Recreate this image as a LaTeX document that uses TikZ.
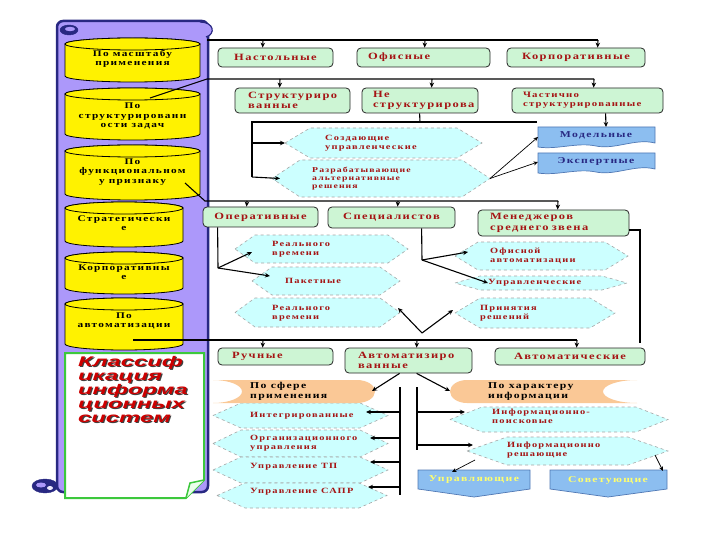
\documentclass[tikz,border=0pt]{standalone}
\usepackage{fontspec}
\setmainfont{Liberation Serif}
\newfontfamily\bxf{Liberation Serif}[FakeStretch=1.3,LetterSpace=15]
\newfontfamily\notef{Liberation Sans}[FakeStretch=1.7]
\usetikzlibrary{arrows.meta}
\definecolor{lav}{RGB}{172,152,250}
\definecolor{navy}{RGB}{40,40,130}
\definecolor{mint}{RGB}{205,245,212}
\definecolor{cyanl}{RGB}{204,255,255}
\definecolor{dred}{RGB}{165,20,20}
\definecolor{orng}{RGB}{250,200,150}
\definecolor{bluel}{RGB}{140,190,240}
\definecolor{blued}{RGB}{80,120,180}
\definecolor{notegreen}{RGB}{60,200,60}
\definecolor{ytext}{RGB}{255,255,110}
\newcommand\mycyl[6]{%
  \filldraw[cylsty] ({#2},{#4+6}) -- ({#2},{#5-6}) arc[start angle=180,end angle=360,x radius={(#3-#2)/2*1pt},y radius=6pt] -- ({#3},{#4+6}) arc[start angle=0,end angle=180,x radius={(#3-#2)/2*1pt},y radius=6pt] -- cycle;
  \draw[cylsty] ({(#2+#3)/2},{#4+6}) ellipse [x radius={(#3-#2)/2*1pt},y radius=6pt];
  \node[cyltext] (#1) at ({(#2+#3)/2},{#6}) {};}
\newcommand\myhex[6]{%
  \path[hexsty] ({#2},{(#4+#5)/2}) -- ({#2+#6},{#4}) -- ({#3-#6},{#4}) -- ({#3},{(#4+#5)/2}) -- ({#3-#6},{#5}) -- ({#2+#6},{#5}) -- cycle;
  \coordinate (#1-w) at ({#2},{(#4+#5)/2});
  \coordinate (#1-e) at ({#3},{(#4+#5)/2});}
\begin{document}
\begin{tikzpicture}[x=1pt,y=-1pt,
  cylsty/.style={fill=yellow,draw=black,line width=0.8pt},
  cyltext/.style={inner sep=0pt},
  t9/.style={font=\bxf\bfseries\fontsize{9}{10}\selectfont},
  tb/.style={font=\bxf\bfseries\fontsize{9.6}{10.4}\selectfont},
  tc/.style={font=\bxf\bfseries\fontsize{8.7}{9.6}\selectfont},
  t8/.style={font=\bxf\bfseries\fontsize{8}{8.8}\selectfont},
  t7/.style={font=\bxf\bfseries\fontsize{7.5}{8}\selectfont},
  gbox/.style={draw=black!85,fill=mint,rounded corners=4pt,line width=0.8pt,inner sep=0pt,tb,text=dred,align=left},
  hexsty/.style={fill=cyanl,draw=gray!70,dashed,line width=0.6pt},
  htext/.style={t8,text=dred,align=left,inner sep=0pt,anchor=west},
  ln/.style={line width=1.1pt,draw=black},
  arr/.style={line width=1.1pt,draw=black,-{Stealth[length=5pt,width=4.5pt]}},
  tarr/.style={line width=0.7pt,draw=black,-{Stealth[length=4.5pt,width=4pt]}},
  bshape/.style={fill=bluel,draw=blued,line width=0.7pt},
  oshape/.style={fill=orng,draw=none}]
\useasboundingbox (0,0) rectangle (720,540);
\fill[white] (0,0) rectangle (720,540);
% ---------------- scroll
\filldraw[fill=lav,draw=navy,line width=2.5pt,rounded corners=6pt] (57,21) rectangle (208,492);
\filldraw[fill=lav,draw=navy,line width=1.2pt] (200,22) .. controls (214,22) and (216,34) .. (206,37);
\filldraw[fill=navy,draw=navy] (69,30) ellipse [x radius=9pt,y radius=5pt];
\fill[lav] (70,29) ellipse [x radius=5pt,y radius=2.2pt];
\filldraw[fill=navy,draw=navy] (45,486) ellipse [x radius=13pt,y radius=7pt];
\fill[lav] (41,485) ellipse [x radius=5pt,y radius=2.5pt];
\fill[white!80!lav] (50,488) ellipse [x radius=3pt,y radius=2pt];
% cylinders
\mycyl{c1}{65}{200}{38}{82}{59}
\node[tc,align=center,inner sep=0pt] (c1t) at (132.5,59) {По масштабу\\применения};
\mycyl{c2}{65}{200}{88}{140}{116}
\node[tc,align=center,inner sep=0pt] (c2t) at (132.5,116) {По\\структурированн\\ости задач};
\mycyl{c3}{65}{200}{145}{200}{172}
\node[tc,align=center,inner sep=0pt] (c3t) at (132.5,172) {По\\функциональном\\у признаку};
\mycyl{c4}{65}{183}{202}{247}{223}
\node[tc,align=center,inner sep=0pt] (c4t) at (124,223) {Стратегически\\е};
\mycyl{c5}{65}{183}{252}{294}{272}
\node[tc,align=center,inner sep=0pt] (c5t) at (124,272) {Корпоративны\\е};
\mycyl{c6}{65}{183}{298}{350}{321}
\node[tc,align=center,inner sep=0pt] (c6t) at (124,321) {По\\автоматизации};
% note
\filldraw[fill=white,draw=notegreen,line width=2pt] (65,353) -- (204,353) -- (204,480) -- (186,498) -- (65,498) -- cycle;
\filldraw[fill=green!8,draw=notegreen,line width=1.5pt] (186,498) -- (190,483) -- (204,480);
\node[font=\notef\bfseries\itshape\fontsize{14}{14}\selectfont,text=black!75,align=left,anchor=north west,inner sep=0pt] (noteshadow) at (79.2,357.2) {Классиф\\икация\\информа\\ционных\\систем};
\node[font=\notef\bfseries\itshape\fontsize{14}{14}\selectfont,text=red!80!black,align=left,anchor=north west,inner sep=0pt] (notetext) at (78,356) {Классиф\\икация\\информа\\ционных\\систем};
% ---------------- row 1
\node[gbox,minimum width=115pt,minimum height=19pt,align=center] (nast) at (275.5,57.5) {Настольные};
\node[gbox,minimum width=133pt,minimum height=19pt,text width=111pt] (ofis) at (423.5,57.5) {Офисные};
\node[gbox,minimum width=138pt,minimum height=19pt,align=center] (korp) at (576,57.5) {Корпоративные};
% row 2
\node[gbox,minimum width=115pt,minimum height=25pt,text width=89pt] (str) at (292.5,100.5) {Структуриро\\ванные};
\node[gbox,minimum width=116pt,minimum height=25pt,text width=94pt] (nestr) at (420,100.5) {Не\\структурирова};
\node[gbox,minimum width=151pt,minimum height=25pt,text width=129pt,font=\bxf\bfseries\fontsize{8.3}{8.8}\selectfont] (chast) at (587.5,100.5) {Частично\\структурированные};
% row 3
\node[gbox,minimum width=115pt,minimum height=20pt,align=center] (oper) at (260.5,217) {Оперативные};
\node[gbox,minimum width=127pt,minimum height=21pt,align=center] (spec) at (391.5,217.5) {Специалистов};
\node[gbox,minimum width=151pt,minimum height=26pt,text width=127pt] (mngr) at (553.5,223) {Менеджеров\\среднего звена};
% row 4
\node[gbox,minimum width=115pt,minimum height=17pt,text width=87pt] (ruch) at (275.5,356.5) {Ручные};
\node[gbox,minimum width=127pt,minimum height=25pt,text width=101pt] (avtz) at (408.5,360.5) {Автоматизиро\\ванные};
\node[gbox,minimum width=150pt,minimum height=17pt,align=center] (avtc) at (570,356.5) {Автоматические};
% ---------------- hexagons
\myhex{h1}{285}{482}{128}{158}{25}
\node[htext] (h1t) at (325,143) {Создающие\\управленческие};
\myhex{h2}{272}{490}{160}{197}{28}
\node[htext,t7] (h2t) at (312,179) {Разрабатывающие\\альтернативные\\решения};
\myhex{hr1}{235}{408}{235}{263}{20}
\node[htext] (hr1t) at (272,249) {Реального\\времени};
\myhex{hr2}{252}{400}{267}{295}{20}
\node[htext] (hr2t) at (285,281) {Пакетные};
\myhex{hr3}{235}{400}{298}{327}{20}
\node[htext] (hr3t) at (272,313) {Реального\\времени};
\myhex{hm1}{455}{628}{242}{270}{23}
\node[htext] (hm1t) at (490,256) {Офисной\\автоматизации};
\myhex{hm2}{455}{627}{276}{290}{25}
\node[htext] (hm2t) at (488,283) {Управленческие};
\myhex{hm3}{455}{615}{298}{328}{25}
\node[htext] (hm3t) at (480,313) {Принятия\\решений};
\myhex{l1}{213}{388}{403}{428}{28}
\node[htext] (l1t) at (250,416) {Интегрированные};
\myhex{l2}{213}{388}{430}{457}{28}
\node[htext] (l2t) at (250,443) {Организационного\\управления};
\myhex{l3}{213}{388}{457}{483}{28}
\node[htext] (l3t) at (250,467) {Управление ТП};
\myhex{l4}{217}{387}{483}{508}{28}
\node[htext] (l4t) at (250,492) {Управление САПР};
\myhex{r1}{450}{668}{407}{432}{32}
\node[htext] (r1t) at (492,416) {Информационно-\\поисковые};
\myhex{r2}{467}{668}{437}{465}{40}
\node[htext] (r2t) at (507,450) {Информационно\\решающие};
% ---------------- orange
\path[oshape] (213,380) -- (357,380) arc[start angle=90,end angle=-90,x radius=18pt,y radius=11.5pt] -- (213,403) arc[start angle=-90,end angle=90,x radius=29pt,y radius=11.5pt] -- cycle;
\node[t9,align=left,inner sep=0pt,anchor=west] (o1) at (250,391.5) {По сфере\\применения};
\path[oshape] (637,380) -- (467,380) arc[start angle=90,end angle=270,x radius=17pt,y radius=11.5pt] -- (637,403) arc[start angle=270,end angle=90,x radius=34pt,y radius=11.5pt] -- cycle;
\node[t9,align=left,inner sep=0pt,anchor=west] (o2) at (488,391.5) {По характеру\\информации};
% ---------------- blue
\path[bshape] (538,127) -- (655,127) -- (655,143) .. controls (635,138) and (615,150) .. (596,146) .. controls (577,142) and (557,150) .. (538,147) -- cycle;
\node[t9,text=navy,inner sep=0pt] (model) at (596,135) {Модельные};
\path[bshape] (538,153) -- (655,153) -- (655,169) .. controls (635,164) and (615,176) .. (596,172) .. controls (577,168) and (557,176) .. (538,173) -- cycle;
\node[t9,text=navy,inner sep=0pt] (expert) at (596,161) {Экспертные};
\path[bshape] (418,470) -- (530,470) -- (530,489) -- (474,497) -- (418,489) -- cycle;
\node[t9,text=ytext,inner sep=0pt] (upr) at (474,480) {Управляющие};
\path[bshape] (550,470) -- (667,470) -- (667,489) -- (608,497) -- (550,489) -- cycle;
\node[t9,text=ytext,inner sep=0pt] (sov) at (608,480) {Советующие};
% ---------------- connectors
\draw[ln] (207,40) -- (598,40);
\draw[arr] (263,40) -- ([xshift=45pt]nast.north west);
\draw[arr] (425,40) -- ([xshift=68pt]ofis.north west);
\draw[arr] (598,40) -- ([xshift=91pt]korp.north west);
\draw[ln] (150,98) -- (207,79) -- (594,79);
\draw[arr] (280,79) -- ([xshift=45pt]str.north west);
\draw[arr] (432,79) -- ([xshift=70pt]nestr.north west);
\draw[arr] (594,79) -- ([xshift=82pt]chast.north west);
\draw[ln] ([xshift=58pt]nestr.south west) -- (420,122);
\draw[ln] (537,122) -- (252,122) -- (252,177);
\draw[arr] (252,143) -- (h1-w);
\draw[arr] (252,177) -- ([xshift=8pt]h2-w);
\draw[arr] ([xshift=94pt]chast.south west) -- (606,127);
\draw[tarr] (h2-e) -- (538,137);
\draw[tarr] (h2-e) -- (538,162);
\draw[ln] (185,183) -- (205,201) -- (558,201);
\draw[arr] (247,201) -- ([xshift=44pt]oper.north west);
\draw[arr] (398,201) -- ([xshift=70pt]spec.north west);
\draw[arr] (558,201) -- ([xshift=80pt]mngr.north west);
\coordinate (jo) at (218,268);
\draw[ln] ([xshift=15pt]oper.south west) -- (jo);
\draw[arr] (jo) -- (252,252);
\draw[arr] (jo) -- (270,276);
\coordinate (js) at (422,260);
\draw[ln] ([xshift=94pt]spec.south west) -- (js);
\draw[arr] (js) -- (468,252);
\draw[arr] (js) -- (488,283);
\draw[ln] ([yshift=-7pt]mngr.east) -- (640,230) -- (640,343);
\coordinate (jv) at (422,333);
\draw[arr] (jv) -- (398,308);
\draw[arr] (jv) -- (453,310);
\draw[ln] (133,340) -- (577,340);
\draw[arr] (263,340) -- ([xshift=45pt]ruch.north west);
\draw[arr] (417,340) -- ([xshift=72pt]avtz.north west);
\draw[arr] (577,340) -- ([xshift=82pt]avtc.north west);
\draw[arr] ([xshift=55pt]avtz.south west) -- (372,391);
\draw[arr] ([xshift=72pt]avtz.south west) -- (450,391);
\draw[ln] (400,387) -- (400,495);
\draw[arr] (400,412) -- (366,412);
\draw[arr] (400,438) -- (370,438);
\draw[arr] (400,462) -- (370,462);
\draw[arr] (400,487) -- (368,487);
\draw[ln] (417,387) -- (417,450);
\draw[arr] (417,412) -- (465,412);
\draw[arr] (417,445) -- (473,445);
\draw[tarr] (475,460) -- (452,472);
\draw[tarr] (655,455) -- (663,471);
\end{tikzpicture}
\end{document}
